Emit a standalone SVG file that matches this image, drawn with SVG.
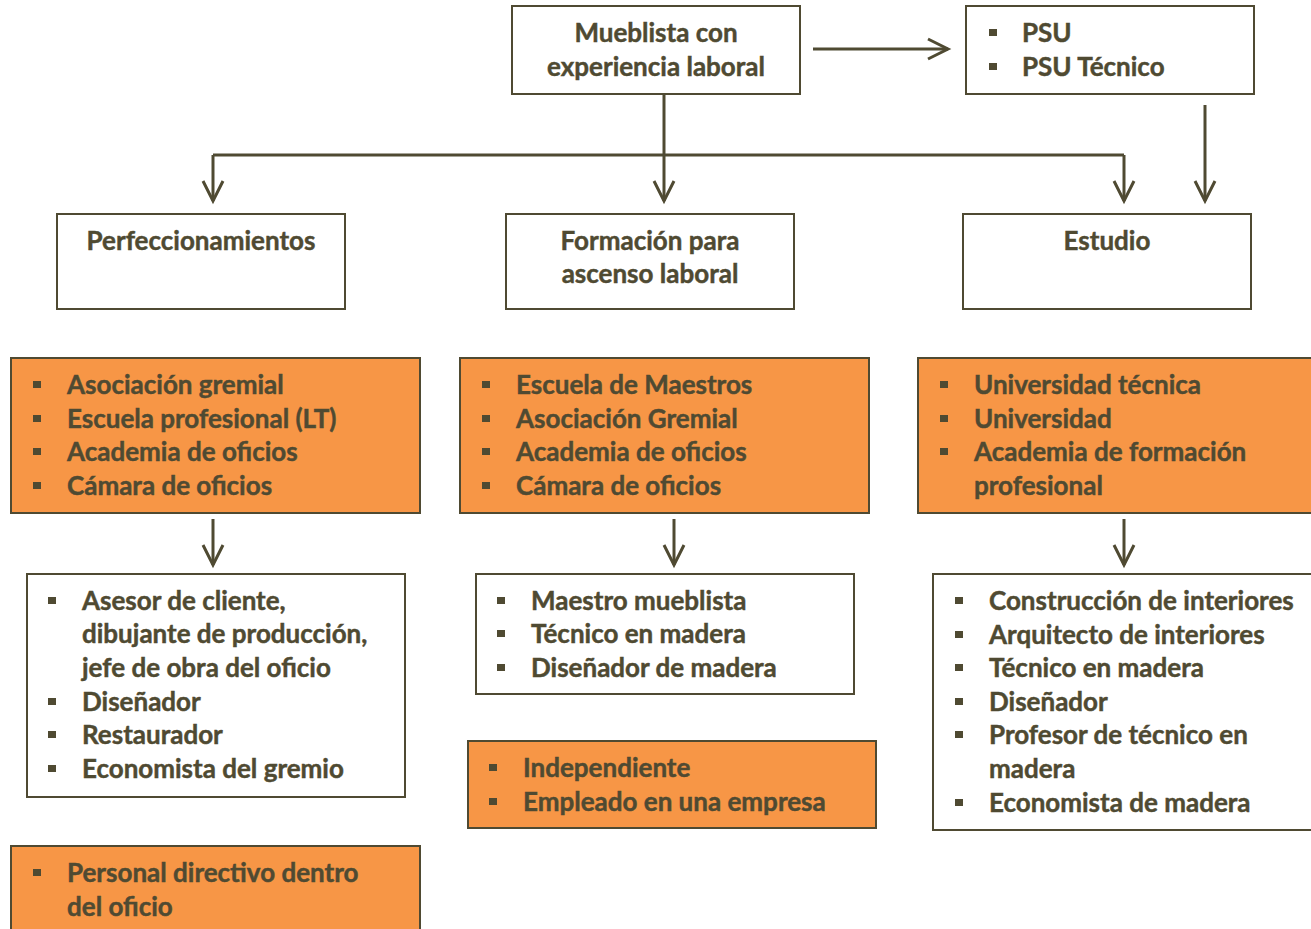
<svg xmlns="http://www.w3.org/2000/svg" width="1311" height="929" viewBox="0 0 1311 929">
<defs>
<style>
.box{fill:#ffffff;stroke:#4f4a32;stroke-width:2}
.obox{fill:#f79646;stroke:#4f4a32;stroke-width:2}
.t{font-family:Lato,"Liberation Sans",sans-serif;font-weight:bold;font-size:26px;fill:#4f4a32;stroke:#4f4a32;stroke-width:0.45px}
.c{text-anchor:middle}
.b{fill:#4f4a32}
.ln{fill:none;stroke:#4f4a32;stroke-width:3}
</style>
<marker id="ah" markerUnits="userSpaceOnUse" viewBox="-22 -12 24 24" refX="0" refY="0" markerWidth="24" markerHeight="24" orient="auto" overflow="visible">
<polyline points="-20,-10 0,0 -20,10" fill="none" stroke="#4f4a32" stroke-width="3"/>
</marker>
</defs>
<rect width="1311" height="929" fill="#ffffff"/>
<g id="connectors">
<path class="ln" d="M664,94 V201" marker-end="url(#ah)"/>
<path class="ln" d="M213,155 H1124"/>
<path class="ln" d="M213,155 V201" marker-end="url(#ah)"/>
<path class="ln" d="M1124,155 V201" marker-end="url(#ah)"/>
<path class="ln" d="M813,49 H948" marker-end="url(#ah)"/>
<path class="ln" d="M1205,105 V201" marker-end="url(#ah)"/>
<path class="ln" d="M213,519 V565" marker-end="url(#ah)"/>
<path class="ln" d="M674,519 V565" marker-end="url(#ah)"/>
<path class="ln" d="M1124,519 V565" marker-end="url(#ah)"/>
</g>
<g id="mueblista">
<rect class="box" x="512" y="6" width="288" height="88"/>
<text class="t c" x="656" y="42">Mueblista con</text>
<text class="t c" x="656" y="76">experiencia laboral</text>
</g>
<g id="psu">
<rect class="box" x="966" y="6" width="288" height="88"/>
<rect class="b" x="989" y="29" width="8" height="7"/>
<rect class="b" x="989" y="63" width="8" height="7"/>
<text class="t" x="1022" y="42">PSU</text>
<text class="t" x="1022" y="76">PSU Técnico</text>
</g>
<g id="perfeccionamientos">
<rect class="box" x="57" y="214" width="288" height="95"/>
<text class="t c" x="201" y="250">Perfeccionamientos</text>
</g>
<g id="formacion">
<rect class="box" x="506" y="214" width="288" height="95"/>
<text class="t c" x="650" y="250">Formación para</text>
<text class="t c" x="650" y="283">ascenso laboral</text>
</g>
<g id="estudio">
<rect class="box" x="963" y="214" width="288" height="95"/>
<text class="t c" x="1107" y="250">Estudio</text>
</g>
<g id="inst-perf">
<rect class="obox" x="11" y="358" width="409" height="155"/>
<rect class="b" x="33" y="381" width="8" height="7"/>
<rect class="b" x="33" y="415" width="8" height="7"/>
<rect class="b" x="33" y="448" width="8" height="7"/>
<rect class="b" x="33" y="482" width="8" height="7"/>
<text class="t" x="67" y="394">Asociación gremial</text>
<text class="t" x="67" y="428">Escuela profesional (LT)</text>
<text class="t" x="67" y="461">Academia de oficios</text>
<text class="t" x="67" y="495">Cámara de oficios</text>
</g>
<g id="inst-form">
<rect class="obox" x="460" y="358" width="409" height="155"/>
<rect class="b" x="482" y="381" width="8" height="7"/>
<rect class="b" x="482" y="415" width="8" height="7"/>
<rect class="b" x="482" y="448" width="8" height="7"/>
<rect class="b" x="482" y="482" width="8" height="7"/>
<text class="t" x="516" y="394">Escuela de Maestros</text>
<text class="t" x="516" y="428">Asociación Gremial</text>
<text class="t" x="516" y="461">Academia de oficios</text>
<text class="t" x="516" y="495">Cámara de oficios</text>
</g>
<g id="inst-est">
<rect class="obox" x="918" y="358" width="409" height="155"/>
<rect class="b" x="940" y="381" width="8" height="7"/>
<rect class="b" x="940" y="415" width="8" height="7"/>
<rect class="b" x="940" y="448" width="8" height="7"/>
<text class="t" x="974" y="394">Universidad técnica</text>
<text class="t" x="974" y="428">Universidad</text>
<text class="t" x="974" y="461">Academia de formación</text>
<text class="t" x="974" y="495">profesional</text>
</g>
<g id="cargos-perf">
<rect class="box" x="27" y="574" width="378" height="223"/>
<rect class="b" x="48" y="597" width="8" height="7"/>
<rect class="b" x="48" y="698" width="8" height="7"/>
<rect class="b" x="48" y="731" width="8" height="7"/>
<rect class="b" x="48" y="765" width="8" height="7"/>
<text class="t" x="82" y="610">Asesor de cliente,</text>
<text class="t" x="82" y="643">dibujante de producción,</text>
<text class="t" x="82" y="677">jefe de obra del oficio</text>
<text class="t" x="82" y="711">Diseñador</text>
<text class="t" x="82" y="744">Restaurador</text>
<text class="t" x="82" y="778">Economista del gremio</text>
</g>
<g id="cargos-form">
<rect class="box" x="476" y="574" width="378" height="120"/>
<rect class="b" x="497" y="597" width="8" height="7"/>
<rect class="b" x="497" y="630" width="8" height="7"/>
<rect class="b" x="497" y="664" width="8" height="7"/>
<text class="t" x="531" y="610">Maestro mueblista</text>
<text class="t" x="531" y="643">Técnico en madera</text>
<text class="t" x="531" y="677">Diseñador de madera</text>
</g>
<g id="cargos-est">
<rect class="box" x="933" y="574" width="400" height="256"/>
<rect class="b" x="955" y="597" width="8" height="7"/>
<rect class="b" x="955" y="631" width="8" height="7"/>
<rect class="b" x="955" y="664" width="8" height="7"/>
<rect class="b" x="955" y="698" width="8" height="7"/>
<rect class="b" x="955" y="731" width="8" height="7"/>
<rect class="b" x="955" y="799" width="8" height="7"/>
<text class="t" x="989" y="610">Construcción de interiores</text>
<text class="t" x="989" y="644">Arquitecto de interiores</text>
<text class="t" x="989" y="677">Técnico en madera</text>
<text class="t" x="989" y="711">Diseñador</text>
<text class="t" x="989" y="744">Profesor de técnico en</text>
<text class="t" x="989" y="778">madera</text>
<text class="t" x="989" y="812">Economista de madera</text>
</g>
<g id="empleo">
<rect class="obox" x="468" y="741" width="408" height="87"/>
<rect class="b" x="489" y="764" width="8" height="7"/>
<rect class="b" x="489" y="798" width="8" height="7"/>
<text class="t" x="523" y="777">Independiente</text>
<text class="t" x="523" y="811">Empleado en una empresa</text>
</g>
<g id="directivo">
<rect class="obox" x="11" y="846" width="409" height="100"/>
<rect class="b" x="33" y="869" width="8" height="7"/>
<text class="t" x="67" y="882">Personal directivo dentro</text>
<text class="t" x="67" y="916">del oficio</text>
</g>
</svg>
